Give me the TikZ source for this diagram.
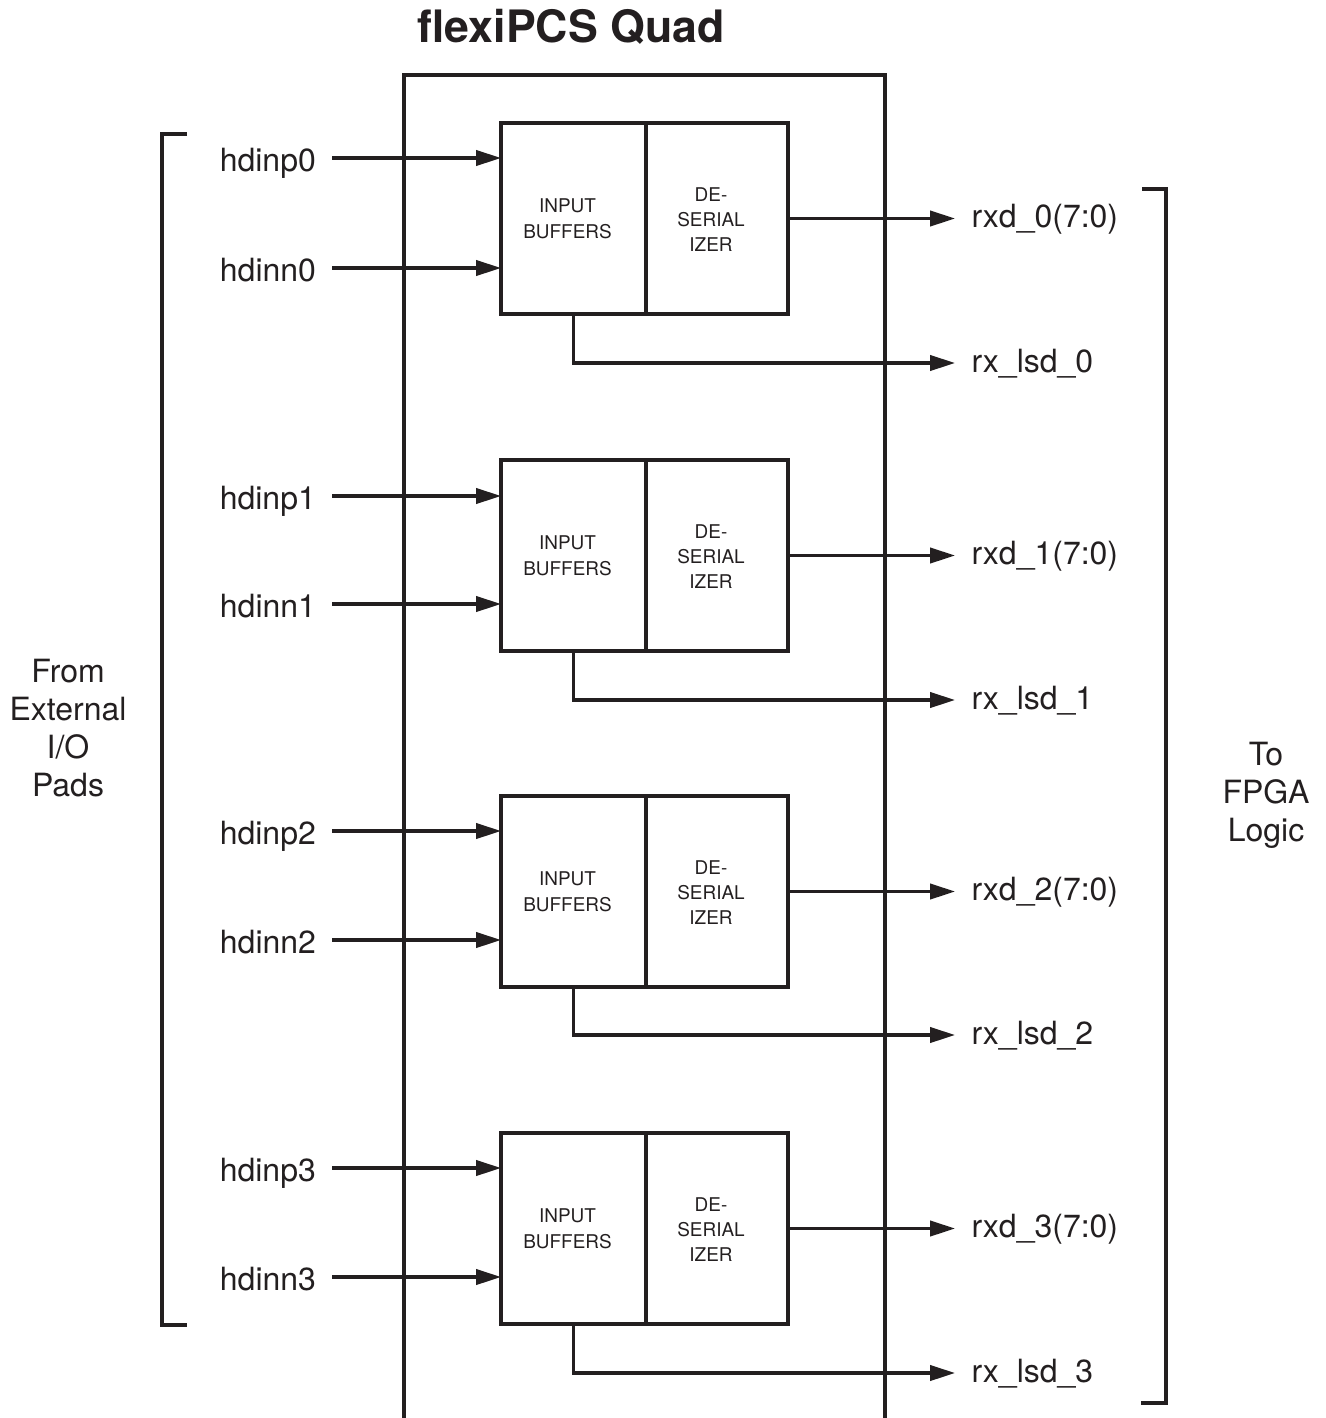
\documentclass[tikz,border=0pt]{standalone}
\usepackage{fontspec}
\setmainfont{TeX Gyre Heros}
\usetikzlibrary{arrows.meta}
\definecolor{ink}{HTML}{231F20}
\begin{document}
\begin{tikzpicture}[x=0.75pt,y=-0.75pt,
  wire/.style={draw=ink, line width=2.3pt},
  arr/.style={-{Triangle[length=18.75pt,width=11.5pt]}},
  ibbox/.style={draw=ink, line width=2.3pt, minimum width=108.75pt, minimum height=143.25pt, inner sep=0pt, outer sep=0pt, anchor=north west},
  dsbox/.style={draw=ink, line width=2.3pt, minimum width=106.5pt, minimum height=143.25pt, inner sep=0pt, outer sep=0pt, anchor=north west},
  inlab/.style={text=ink, font=\fontsize{24pt}{28.5pt}\selectfont, inner xsep=12pt, inner ysep=0pt, outer sep=0pt, text height=20.5pt, text depth=0pt, anchor=east},
  outlab/.style={text=ink, font=\fontsize{24pt}{28.5pt}\selectfont, inner xsep=12.5pt, inner ysep=0pt, outer sep=0pt, text height=13.5pt, text depth=0pt, anchor=west},
  blktext/.style={text=ink, align=center, inner sep=0pt},
  sidelab/.style={text=ink, align=center, inner sep=0pt, font=\fontsize{24pt}{28.5pt}\selectfont}
]
\useasboundingbox (0,0) rectangle (1326,1418);

% title
\node[text=ink, font=\bfseries\fontsize{33.5pt}{40pt}\selectfont, anchor=base, inner sep=0pt] (title) at (571,42) {flexiPCS Quad};

% quad outline (open at the bottom)
\draw[wire] (404,1418) -- (404,75) -- (885,75) -- (885,1418);

% brackets
\draw[wire] (187,134) -- (162,134) -- (162,1325) -- (187,1325);
\draw[wire] (1142,189) -- (1166,189) -- (1166,1403) -- (1141,1403);

% side labels
\node[sidelab] (from) at (68,728) {From\\External\\I/O\\Pads};
\node[sidelab] (to) at (1266,795) {To\\FPGA\\Logic};

% lanes
\foreach \i/\t/\p/\n/\r/\l in {0/123/158/268/218.5/363, 1/460/496/604/555.5/700, 2/796/831/940/891.5/1035, 3/1133/1168/1277/1228.5/1373}{
  \node[ibbox] (ib\i) at (501,\t) {};
  \node[dsbox] (ds\i) at (ib\i.north east) {};
  \node[blktext, font=\fontsize{14.2pt}{19.5pt}\selectfont] (ibt\i) at ([xshift=-4.5pt]ib\i.center) {INPUT\\BUFFERS};
  \node[blktext, font=\fontsize{14.2pt}{18.75pt}\selectfont] (dst\i) at ([xshift=-4.5pt,yshift=-1pt]ds\i.center) {DE-\\SERIAL\\IZER};
  \node[inlab] (p\i) at (332,\p) {hdinp\i};
  \node[inlab] (n\i) at (332,\n) {hdinn\i};
  \draw[wire,arr] (p\i.east) -- (p\i.east -| ib\i.west);
  \draw[wire,arr] (n\i.east) -- (n\i.east -| ib\i.west);
  \node[outlab] (d\i) at (955,\r) {rxd\_\i(7:0)};
  \node[outlab] (s\i) at (955,\l) {rx\_lsd\_\i};
  \draw[wire,arr] (ds\i.east) -- (d\i.west);
  \draw[wire,arr] (ib\i.south) -- (ib\i.south |- s\i.west) -- (s\i.west);
}
\end{tikzpicture}
\end{document}
